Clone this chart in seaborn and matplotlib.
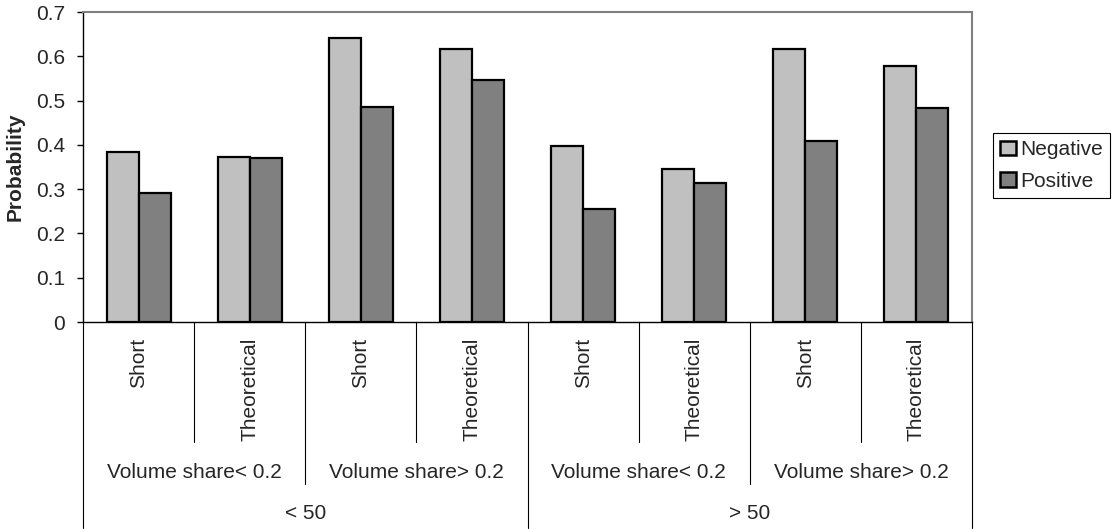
import matplotlib
matplotlib.use("Agg")
import matplotlib.pyplot as plt
import matplotlib.transforms as mtransforms
import pandas as pd
import seaborn as sns

# % Data
method = ["Short", "Theoretical", "Short", "Theoretical",
          "Short", "Theoretical", "Short", "Theoretical"]
share = ["Volume share< 0.2", "Volume share< 0.2", "Volume share> 0.2", "Volume share> 0.2",
         "Volume share< 0.2", "Volume share< 0.2", "Volume share> 0.2", "Volume share> 0.2"]
size = ["< 50", "< 50", "< 50", "< 50", "> 50", "> 50", "> 50", "> 50"]
negative = [0.383, 0.372, 0.641, 0.616, 0.397, 0.345, 0.617, 0.579]
positive = [0.292, 0.371, 0.486, 0.546, 0.256, 0.313, 0.408, 0.484]
series = ["Negative", "Positive"]
colors = {"Negative": "#C0C0C0", "Positive": "#808080"}

# % Long-form table
keys = [f"{a}|{b}|{c}" for a, b, c in zip(size, share, method)]
df = pd.concat([
    pd.DataFrame({"category": keys, "Sentiment": "Negative", "value": negative}),
    pd.DataFrame({"category": keys, "Sentiment": "Positive", "value": positive}),
])

# % Plot
sns.set_style("white")
plt.rcParams["font.family"] = ["Liberation Sans", "DejaVu Sans"]
fs = 15

W, H = 1113, 529
fig = plt.figure(figsize=(W / 100, H / 100), dpi=100)
ax = fig.add_axes([83 / W, (H - 322) / H, (972 - 83) / W, 310 / H])

sns.barplot(
    data=df,
    x="category",
    y="value",
    hue="Sentiment",
    hue_order=series,
    order=keys,
    palette=colors,
    saturation=1,
    width=64 / 111,
    edgecolor="black",
    linewidth=1.6,
    ax=ax,
)

ax.set_xlim(-0.5, len(keys) - 0.5)
ax.set_ylim(0, 0.7)
ax.set_yticks([i / 10 for i in range(8)])
ax.yaxis.set_major_formatter(matplotlib.ticker.FuncFormatter(lambda v, p: f"{v:g}"))
ax.tick_params(axis="y", direction="out", length=4, width=1, color="black",
               pad=9, labelsize=fs, left=True)
ax.tick_params(axis="x", length=0, labelbottom=False)
ax.set_xlabel("")
ax.set_ylabel("Probability", fontsize=fs, fontweight="bold")
ax.yaxis.set_label_coords(-0.066, 0.5)

for side in ["top", "right"]:
    ax.spines[side].set_color("#808080")
    ax.spines[side].set_linewidth(1.5)
for side in ["left", "bottom"]:
    ax.spines[side].set_color("black")
    ax.spines[side].set_linewidth(1.0)

# % Hierarchical category axis
trans = mtransforms.blended_transform_factory(ax.transData, ax.transAxes)
for i in range(len(keys) + 1):
    if i % 4 == 0:
        depth = -0.665
    elif i % 2 == 0:
        depth = -0.523
    else:
        depth = -0.387
    ax.plot([i - 0.5, i - 0.5], [0, depth], transform=trans, clip_on=False,
            color="black", lw=0.8)

for i, m in enumerate(method):
    ax.text(i, -0.05, m, transform=trans, rotation=90, ha="center", va="top",
            fontsize=fs)
for i in range(0, len(keys), 2):
    ax.text(i + 0.5, -0.484, share[i], transform=trans, ha="center", va="center",
            fontsize=fs)
for i in range(0, len(keys), 4):
    ax.text(i + 1.5, -0.619, size[i], transform=trans, ha="center", va="center",
            fontsize=fs)

# % Legend
handles, labels = ax.get_legend_handles_labels()
for h in handles:
    h.set_edgecolor("black")
    h.set_linewidth(1.8)
ax.legend(
    handles, labels,
    loc="upper left",
    bbox_to_anchor=(993 / W, (H - 133) / H),
    bbox_transform=fig.transFigure,
    frameon=True,
    fancybox=False,
    edgecolor="black",
    framealpha=1,
    fontsize=fs,
    borderpad=0.35,
    borderaxespad=0,
    handlelength=0.75,
    handleheight=0.68,
    handletextpad=0.2,
    labelspacing=0.6,
)
ax.get_legend().get_frame().set_linewidth(0.8)

fig.savefig("out.png", dpi=100)
